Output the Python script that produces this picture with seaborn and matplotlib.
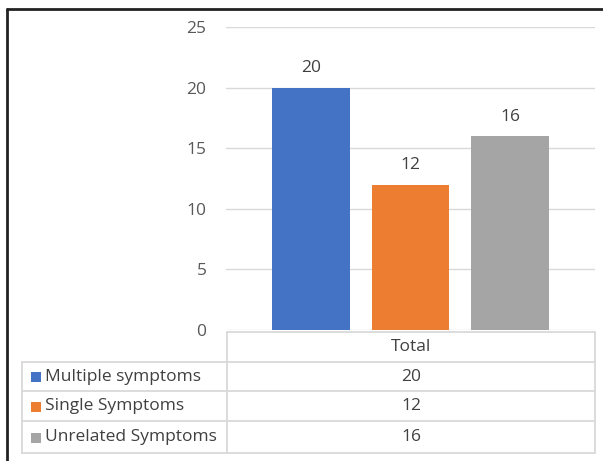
import matplotlib
matplotlib.use("Agg")
import matplotlib.pyplot as plt
import seaborn as sns
import pandas as pd

categories = ["Total"]
series = ["Multiple symptoms", "Single Symptoms", "Unrelated Symptoms"]
values = [20, 12, 16]
colors = ["#4472C4", "#ED7D31", "#A5A5A5"]
yticks = [0, 5, 10, 15, 20, 25]

sns.set_theme(style="white")
plt.rcParams["font.family"] = ["Open Sans", "DejaVu Sans"]
FS = 12.5
TC = "#404040"

W, H = 603, 461
fig = plt.figure(figsize=(W / 100, H / 100), dpi=100)
fig.patch.set_facecolor("white")

# main plot area (pixel layout)
px_l, px_r, px_t, px_b = 226, 595, 27, 330
ax = fig.add_axes([px_l / W, 1 - px_b / H, (px_r - px_l) / W, (px_b - px_t) / H])

df = pd.DataFrame({"category": categories * len(series), "series": series, "value": values})
sns.barplot(data=df, x="category", y="value", hue="series", palette=colors,
            hue_order=series, width=0.81, gap=0.22, ax=ax, legend=False,
            saturation=1, linewidth=0)

for cont in ax.containers:
    ax.bar_label(cont, fmt="%d", padding=8, color=TC, fontsize=FS)

ax.set_ylim(0, 25)
ax.set_xlim(-0.5, 0.5)
ax.set_yticks(yticks)
ax.set_yticklabels([str(t) for t in yticks])
ax.yaxis.grid(True, color="#D9D9D9", linewidth=1)
ax.set_axisbelow(True)
ax.tick_params(axis="y", length=0, pad=14, labelsize=FS, labelcolor="#595959")
ax.set_xticks([])
ax.set_xlabel("")
ax.set_ylabel("")
for s in ax.spines.values():
    s.set_visible(False)

# overlay for data table and frame (pixel coordinates)
tax = fig.add_axes([0, 0, 1, 1], facecolor="none")
tax.set_xlim(0, W)
tax.set_ylim(H, 0)
tax.axis("off")

gc = "#D9D9D9"
lw = 1.3
x0, x1, x2 = 22, 227, 595
y_head, y_rows = 332, [362, 391, 421, 453]
tax.plot([x1, x2], [y_head, y_head], color=gc, lw=lw)
tax.plot([x1, x1], [y_head, y_rows[-1]], color=gc, lw=lw)
tax.plot([x2, x2], [y_head, y_rows[-1]], color=gc, lw=lw)
tax.plot([x0, x0], [y_rows[0], y_rows[-1]], color=gc, lw=lw)
for yy in y_rows:
    tax.plot([x0, x2], [yy, yy], color=gc, lw=lw)
tax.text((x1 + x2) / 2, (y_head + y_rows[0]) / 2, categories[0], ha="center", va="center",
         fontsize=FS, color=TC)
for i, (name, v, c) in enumerate(zip(series, values, colors)):
    yc = (y_rows[i] + y_rows[i + 1]) / 2
    tax.add_patch(plt.Rectangle((31, yc - 4.5), 10, 10, color=c, lw=0))
    tax.text(45, yc, name, ha="left", va="center", fontsize=FS, color=TC)
    tax.text((x1 + x2) / 2, yc, str(v), ha="center", va="center", fontsize=FS, color=TC)

# screenshot frame (left and top)
tax.plot([7, 7], [9, 461], color="#222222", lw=2)
tax.plot([7, 603], [9, 9], color="#222222", lw=2)

fig.savefig("out.png", dpi=100)
